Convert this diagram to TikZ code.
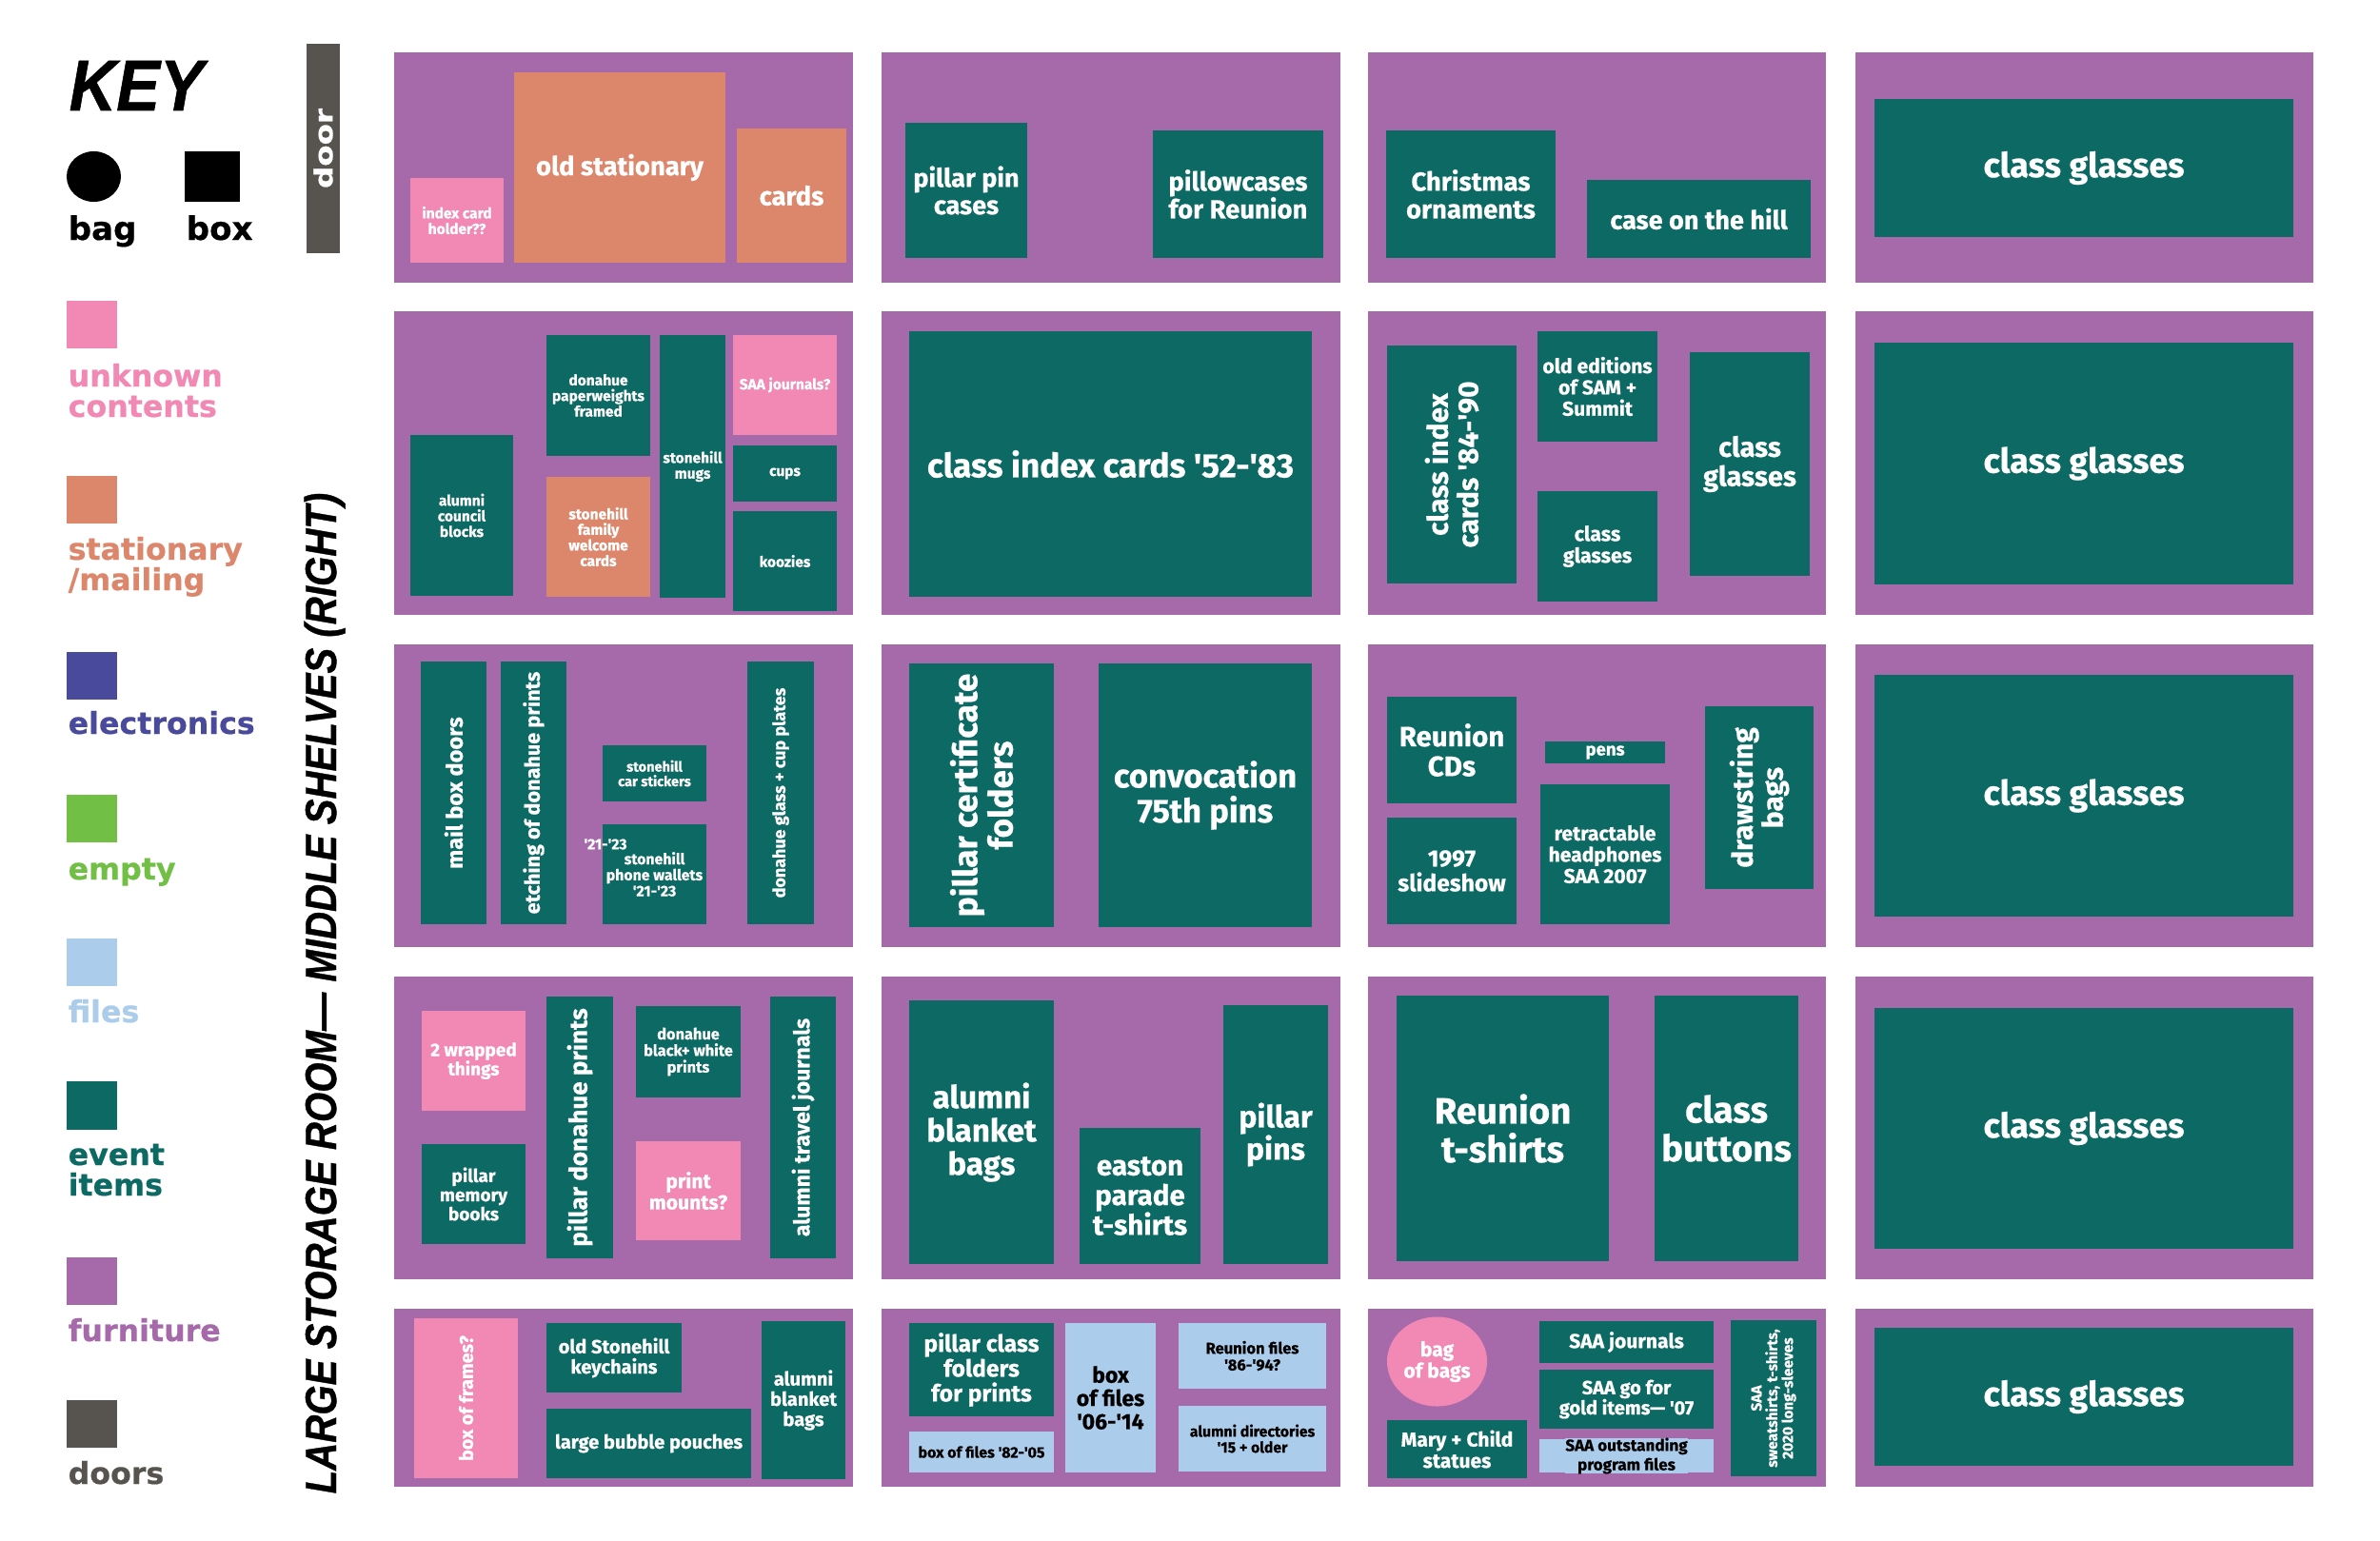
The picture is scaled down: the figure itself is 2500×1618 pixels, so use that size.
\documentclass[tikz,border=0pt]{standalone}
\usepackage{fontspec}
\usepackage{graphicx}
\usetikzlibrary{fit,shapes.geometric}
\newfontfamily\lblfont{Fira Sans}[BoldFeatures={FakeBold=0.6}]
\newfontfamily\keyfont{DejaVu Sans}[BoldFeatures={FakeBold=0.5}]
\newfontfamily\ttlfont{Liberation Sans}[BoldItalicFeatures={FakeBold=0.8}]
\definecolor{furn}{HTML}{A66AAB}
\definecolor{evt}{HTML}{0C6964}
\definecolor{unk}{HTML}{F288B4}
\definecolor{stat}{HTML}{DC876C}
\definecolor{fil}{HTML}{ABCDEB}
\definecolor{elec}{HTML}{4A4A9C}
\definecolor{emp}{HTML}{71BF44}
\definecolor{dor}{HTML}{57534E}
\tikzset{
  fs/.style={font=\lblfont\bfseries\fontsize{#1pt}{\dimexpr #1pt*106/100\relax}\selectfont},
  base/.style={inner sep=0pt, outer sep=0pt, align=center},
  shelf/.style={base, fill=furn},
  ev/.style={base, fill=evt, text=white},
  unkb/.style={base, fill=unk, text=white},
  statb/.style={base, fill=stat, text=white},
  filb/.style={base, fill=fil, text=black},
  rlab/.style={rotate=90},
  keylab/.style={font=\keyfont\bfseries\fontsize{9pt}{9pt}\selectfont, anchor=base west, inner sep=0pt},
}
% box with horizontal label
\newcommand\bx[8]{\node[#1, fit={(#3,#4) (#5,#6)}] (#2) {};
  \node[#1, fs=#7] (#2-t) at (#2.center) {#8};}
% box with label rotated 90 degrees
\newcommand\rbx[8]{\node[#1, fit={(#3,#4) (#5,#6)}] (#2) {};
  \node[#1, rlab, fs=#7] (#2-t) at (#2.center) {#8};}
\begin{document}
\begin{tikzpicture}[x=0.01cm, y=-0.01cm]
\useasboundingbox (0,0) rectangle (2500,1618);
\fill[white] (0,0) rectangle (2500,1618);
% ---------- key ----------
\node[anchor=base west, inner sep=0pt] (key) at (72,116) {\resizebox{40.1pt}{14.8pt}{\ttlfont\bfseries\itshape KEY}};
\node[ellipse, fill=black, inner sep=0pt, minimum width=0.57cm, minimum height=0.53cm] (kbag) at (98.5,185.5) {};
\node[base, fill=black, fit={(194,159) (252,212)}] (kbox) {};
\node[keylab, font=\keyfont\bfseries\fontsize{9.7pt}{9.7pt}\selectfont] (kbagl) at (71,252) {bag};
\node[keylab, font=\keyfont\bfseries\fontsize{9.7pt}{9.7pt}\selectfont] (kboxl) at (195,252) {box};
\node[base, fill=unk, fit={(70,316) (123,366)}] (s-unk) {};
\node[keylab, text=unk] (l-unk) at (71,406) {unknown};
\node[keylab, text=unk] (l-unk2) at (71,438) {contents};
\node[base, fill=stat, fit={(70,500) (123,550)}] (s-stat) {};
\node[keylab, text=stat] (l-stat) at (71,588) {stationary};
\node[keylab, text=stat] (l-stat2) at (71,620) {/mailing};
\node[base, fill=elec, fit={(70,685) (123,735)}] (s-elec) {};
\node[keylab, text=elec] (l-elec) at (71,771) {electronics};
\node[base, fill=emp, fit={(70,835) (123,885)}] (s-emp) {};
\node[keylab, text=emp] (l-emp) at (71,924) {empty};
\node[base, fill=fil, fit={(70,986) (123,1036)}] (s-fil) {};
\node[keylab, text=fil] (l-fil) at (71,1074) {files};
\node[base, fill=evt, fit={(70,1136) (123,1187)}] (s-evt) {};
\node[keylab, text=evt] (l-evt) at (71,1224) {event};
\node[keylab, text=evt] (l-evt2) at (71,1256) {items};
\node[base, fill=furn, fit={(70,1321) (123,1371)}] (s-furn) {};
\node[keylab, text=furn] (l-furn) at (71,1409) {furniture};
\node[base, fill=dor, fit={(70,1471) (123,1521)}] (s-dor) {};
\node[keylab, text=dor] (l-dor) at (71,1559) {doors};
% ---------- door and title ----------
\node[base, fill=dor, fit={(322,46) (357,266)}] (door) {};
\node[base, rlab, text=white] (door-t) at (door.center) {\resizebox{23.9pt}{5.7pt}{\keyfont\bfseries door}};
\node[rotate=90, anchor=base west, inner sep=0pt] (title) at (353,1570) {\resizebox{299pt}{9.5pt}{\ttlfont\bfseries\itshape LARGE STORAGE ROOM— MIDDLE SHELVES (RIGHT)}};
% ---------- shelves ----------
\foreach \r/\ya/\yb in {1/55/297, 2/327/646, 3/677/995, 4/1026/1344, 5/1375/1562}{
  \foreach \c/\xa/\xb in {1/414/896, 2/926/1408, 3/1437/1918, 4/1949/2430}{
    \node[shelf, fit={(\xa,\ya) (\xb,\yb)}] (sh-\r-\c) {};
  }
}
% ---------- row 1 ----------
\bx{unkb}{ichold}{431}{187}{529}{276}{4.4}{index card\\holder??}
\bx{statb}{oldstat}{540}{76}{762}{276}{7.8}{old stationary}
\bx{statb}{cards}{774}{135}{889}{276}{7.8}{cards}
\bx{ev}{pinc}{951}{129}{1079}{271}{7.7}{pillar pin\\cases}
\bx{ev}{pillow}{1211}{137}{1390}{271}{7.8}{pillowcases\\for Reunion}
\bx{ev}{xmas}{1456}{137}{1634}{271}{7.8}{Christmas\\ornaments}
\bx{ev}{hill}{1667}{189}{1902}{271}{7.7}{case on the hill}
\bx{ev}{cg1}{1969}{104}{2409}{249}{10.2}{class glasses}
% ---------- row 2 ----------
\bx{ev}{acb}{431}{457}{539}{626}{4.4}{alumni\\council\\blocks}
\bx{ev}{dpf}{574}{352}{683}{479}{4.4}{donahue\\paperweights\\framed}
\bx{statb}{sfw}{574}{501}{683}{627}{4.4}{stonehill\\family\\welcome\\cards}
\bx{ev}{mugs}{693}{352}{762}{628}{4.4}{stonehill\\mugs}
\bx{unkb}{saaj}{770}{352}{879}{457}{4.4}{SAA journals?}
\bx{ev}{cups}{770}{468}{879}{527}{4.4}{cups}
\bx{ev}{kooz}{770}{537}{879}{642}{4.4}{koozies}
\bx{ev}{cic}{955}{348}{1378}{627}{10.0}{class index cards '52-'83}
\rbx{ev}{cic2}{1457}{363}{1593}{613}{8.5}{class index\\cards '84-'90}
\bx{ev}{olded}{1615}{348}{1741}{464}{6.0}{old editions\\of SAM +\\Summit}
\bx{ev}{cgs}{1615}{516}{1741}{632}{6.1}{class\\glasses}
\bx{ev}{cgl}{1775}{370}{1901}{605}{8.25}{class\\glasses}
\bx{ev}{cg2}{1969}{360}{2409}{614}{10.2}{class glasses}
% ---------- row 3 ----------
\rbx{ev}{mbd}{442}{695}{511}{971}{6.7}{mail box doors}
\rbx{ev}{etch}{526}{695}{595}{971}{6.15}{etching of donahue prints}
\bx{ev}{csk}{633}{783}{742}{842}{4.15}{stonehill\\car stickers}
\bx{ev}{spw}{633}{866}{742}{971}{4.5}{stonehill\\phone wallets\\'21-'23}
\node[base, fs=4.45, text=white] (yr) at (636,887) {'21-'23};
\rbx{ev}{dgc}{785}{695}{855}{971}{5.1}{donahue glass + cup plates}
\rbx{ev}{pcf}{955}{697}{1107}{974}{10}{pillar certificate\\folders}
\bx{ev}{conv}{1154}{697}{1378}{974}{9.85}{convocation\\75th pins}
\bx{ev}{rcd}{1457}{732}{1593}{844}{8.4}{Reunion\\CDs}
\bx{ev}{slide}{1457}{859}{1593}{971}{7.0}{1997\\slideshow}
\bx{ev}{pens}{1623}{779}{1749}{802}{5.3}{pens}
\bx{ev}{rhp}{1618}{824}{1754}{971}{6.0}{retractable\\headphones\\SAA 2007}
\rbx{ev}{dsb}{1791}{742}{1905}{934}{8.5}{drawstring\\bags}
\bx{ev}{cg3}{1969}{709}{2409}{963}{10.2}{class glasses}
% ---------- row 4 ----------
\bx{unkb}{wrap}{443}{1062}{552}{1167}{5.4}{2 wrapped\\things}
\bx{ev}{pmb}{443}{1202}{552}{1307}{5.4}{pillar\\memory\\books}
\rbx{ev}{pdp}{574}{1047}{644}{1322}{7.4}{pillar donahue prints}
\bx{ev}{dbw}{668}{1057}{778}{1153}{4.65}{donahue\\black+ white\\prints}
\bx{unkb}{pm}{668}{1199}{778}{1303}{6.0}{print\\mounts?}
\rbx{ev}{atj}{809}{1047}{878}{1322}{6.55}{alumni travel journals}
\bx{ev}{abb}{955}{1051}{1107}{1328}{9.4}{alumni\\blanket\\bags}
\bx{ev}{ept}{1134}{1185}{1261}{1328}{8.4}{easton\\parade\\t-shirts}
\bx{ev}{ppins}{1285}{1056}{1395}{1328}{9.1}{pillar\\pins}
\bx{ev}{rts}{1467}{1046}{1690}{1325}{10.9}{Reunion\\t-shirts}
\bx{ev}{cbt}{1738}{1046}{1889}{1325}{10.9}{class\\buttons}
\bx{ev}{cg4}{1969}{1059}{2409}{1312}{10.2}{class glasses}
% ---------- row 5 ----------
\rbx{unkb}{bof}{435}{1385}{544}{1553}{5.6}{box of frames?}
\bx{ev}{osk}{574}{1390}{716}{1463}{5.7}{old Stonehill\\keychains}
\bx{ev}{lbp}{574}{1480}{789}{1553}{5.7}{large bubble pouches}
\bx{ev}{abb2}{800}{1388}{888}{1554}{5.7}{alumni\\blanket\\bags}
\bx{ev}{pcfp}{955}{1390}{1107}{1488}{7.0}{pillar class\\folders\\for prints}
\bx{filb}{bf1}{955}{1504}{1107}{1547}{4.55}{box of files '82-'05}
\bx{filb}{bf2}{1119}{1390}{1214}{1547}{6.55}{box\\of files\\'06-'14}
\bx{filb}{rf}{1238}{1390}{1393}{1459}{4.7}{Reunion files\\'86-'94?}
\bx{filb}{ad}{1238}{1477}{1393}{1546}{4.5}{alumni directories\\'15 + older}
\node[ellipse, fill=unk, text=white, inner sep=0pt, align=center, fs=6.0, minimum width=1.05cm, minimum height=0.94cm] (bob) at (1509.5,1430.5) {bag\\of bags};
\bx{ev}{mcs}{1457}{1492}{1604}{1553}{6.0}{Mary + Child\\statues}
\bx{ev}{saaj2}{1617}{1388}{1800}{1432}{6.0}{SAA journals}
\bx{ev}{gold}{1617}{1439}{1800}{1501}{5.7}{SAA go for\\gold items— '07}
\node[filb, fit={(1617,1512) (1800,1547)}] (sop) {};
\node[filb, font=\lblfont\bfseries\fontsize{4.85pt}{4.1pt}\selectfont] (sop-t) at (sop.center) {SAA outstanding\\program files};
\rbx{ev}{saas}{1818}{1387}{1908}{1551}{4.4}{SAA\\sweatshirts, t-shirts,\\2020 long-sleeves}
\bx{ev}{cg5}{1969}{1395}{2409}{1540}{10.2}{class glasses}
\end{tikzpicture}
\end{document}
